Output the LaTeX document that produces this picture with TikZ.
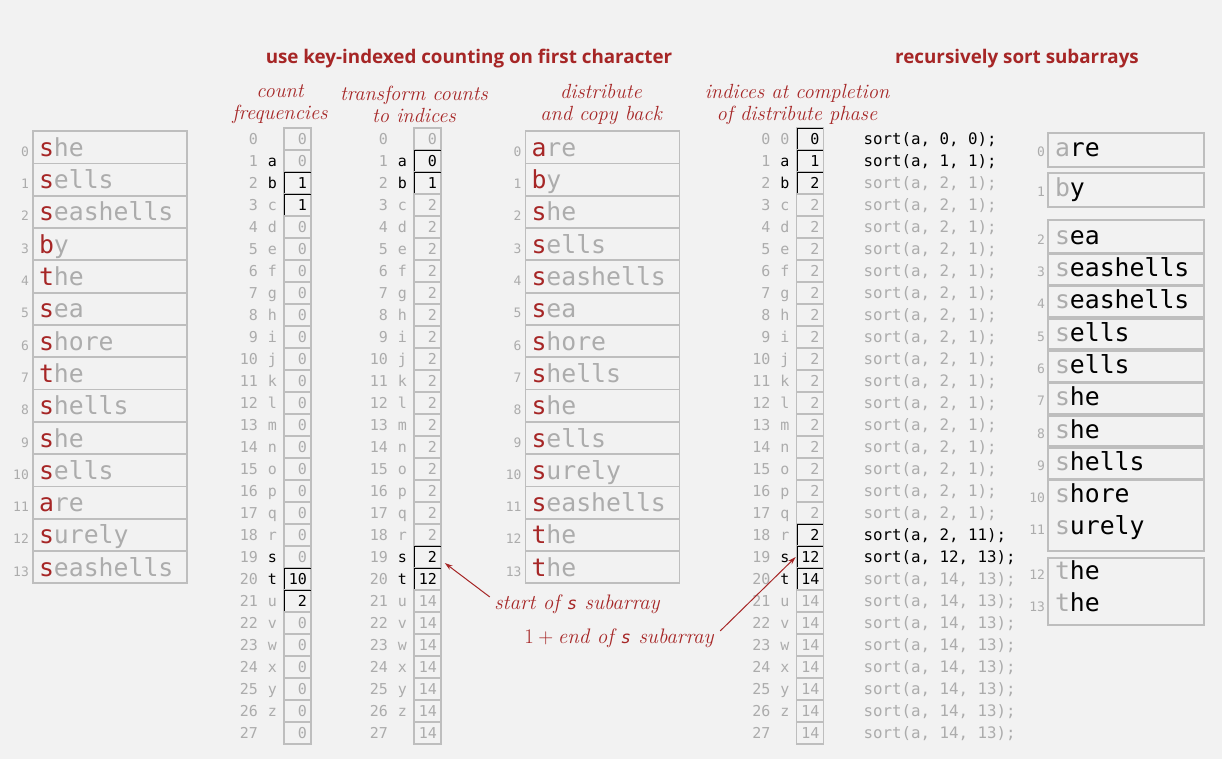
\documentclass[tikz,border=0pt]{standalone}
\usepackage{fontspec}
\setmonofont{DejaVu Sans Mono}
\newfontfamily\headfont{Open Sans}
\usetikzlibrary{positioning,arrows.meta}

\definecolor{bookred}{RGB}{166,38,38}
\definecolor{cellgray}{RGB}{190,190,190}
\definecolor{textgray}{RGB}{172,172,172}
\definecolor{paper}{RGB}{242,242,242}

% first letter coloured, rest of the word in another colour
\def\splitred#1#2\relax{{\color{bookred}#1}#2}
\def\splitgray#1#2\relax{{\color{textgray}#1}{\color{black}#2}}
\newcommand\redfirst[1]{\expandafter\splitred#1\relax}
\newcommand\grayfirst[1]{\expandafter\splitgray#1\relax}
\newcommand\keychar[1]{{\ttfamily\fontsize{17}{17}\selectfont #1}}

% letter of a row (a = 1, ..., z = 26)
\newcommand\rowletter[1]{\ifnum#1>0 \ifnum#1<27 \char\numexpr96+#1\relax\fi\fi}
\newcommand\setlettercolor[1]{%
  \def\lc{textgray}%
  \ifnum#1=1 \def\lc{black}\fi
  \ifnum#1=2 \def\lc{black}\fi
  \ifnum#1=19 \def\lc{black}\fi
  \ifnum#1=20 \def\lc{black}\fi}

\begin{document}
\begin{tikzpicture}[x=1pt,y=-1pt]
  \tikzstyle{word cell}=[draw=cellgray,line width=1.8pt,minimum width=154pt,minimum height=32.3pt,
    text width=142pt,inner xsep=6pt,inner ysep=0pt,align=left,text height=20pt,text depth=2pt,
    text=textgray,font=\ttfamily\fontsize{24.8}{24.8}\selectfont]
  \tikzstyle{sorted word}=[word cell,draw=none]
  \tikzstyle{cell line}=[draw=cellgray,line width=1.8pt]
  \tikzstyle{word label}=[inner sep=0pt,text height=20pt,text depth=2pt,text=textgray,
    font=\ttfamily\fontsize{13}{13}\selectfont]
  \tikzstyle{count cell}=[draw=cellgray,line width=1.6pt,minimum width=27pt,minimum height=22pt,
    text width=19pt,inner xsep=4pt,inner ysep=0pt,align=right,text height=11pt,text depth=0pt,
    font=\ttfamily\fontsize{15}{15}\selectfont]
  \tikzstyle{mark line}=[black,line width=0.8pt]
  \tikzstyle{row num}=[inner sep=0pt,text height=11pt,text depth=0pt,text=textgray,
    font=\ttfamily\fontsize{15}{15}\selectfont]
  \tikzstyle{row letter}=[row num]
  \tikzstyle{sort call}=[row num,font=\ttfamily\fontsize{15.8}{15.8}\selectfont]
  \tikzstyle{title text}=[text=bookred,font=\headfont\bfseries\fontsize{18.8}{22}\selectfont]
  \tikzstyle{phase text}=[text=bookred,align=center,font=\itshape\fontsize{20.5}{22}\selectfont]
  \tikzstyle{note text}=[text=bookred,font=\itshape\fontsize{21}{24}\selectfont]
  \tikzstyle{note arrow}=[bookred,line width=1pt,-{Stealth[length=8pt,width=5pt]}]

  \fill[paper] (0,0) rectangle (1222,759);

  % Ueberschriften
  \node[title text] (keytitle) at (469,59) {use key-indexed counting on first character};
  \node[title text] (sorttitle) at (1017,59) {recursively sort subarrays};
  \node[phase text] (countlbl) at (280,104) {count\\frequencies};
  \node[phase text] (translbl) at (414,104) {transform counts\\to indices};
  \node[phase text] (distlbl) at (601,104) {distribute\\and copy back};
  \node[phase text] (donelbl) at (797,104) {indices at completion\\of distribute phase};

  % Eingabe
  \foreach \w [count=\i from 0] in {she,sells,seashells,by,the,sea,shore,the,shells,she,sells,are,surely,seashells}{
    \node[word cell] (in\i) at (110,{147.3+32.3*\i}) {\redfirst{\w}};
    \node[word label,left=3pt of in\i] {\i};
  }

  % count[]
  \foreach \v/\h [count=\i from 0] in {0/0,0/0,1/1,1/1,0/0,0/0,0/0,0/0,0/0,0/0,0/0,0/0,0/0,0/0,
      0/0,0/0,0/0,0/0,0/0,0/0,10/1,2/1,0/0,0/0,0/0,0/0,0/0,0/0}{
    \ifnum\h=1 \def\vc{black}\else\def\vc{textgray}\fi
    \node[count cell,text=\vc] (cf\i) at (297.5,{139+22*\i}) {\v};
    \ifnum\h=1
      \draw[mark line] ([shift={(1.3pt,1.3pt)}]cf\i.south west) |- ([shift={(-1.3pt,-1.3pt)}]cf\i.north east);
    \fi
  }

  % count[] nach Summierung
  \foreach \v/\h [count=\i from 0] in {0/0,0/1,1/1,2/0,2/0,2/0,2/0,2/0,2/0,2/0,2/0,2/0,2/0,2/0,
      2/0,2/0,2/0,2/0,2/0,2/1,12/1,14/0,14/0,14/0,14/0,14/0,14/0,14/0}{
    \ifnum\h=1 \def\vc{black}\else\def\vc{textgray}\fi
    \node[count cell,text=\vc] (ti\i) at (427.5,{139+22*\i}) {\v};
    \ifnum\h=1
      \draw[mark line] ([shift={(1.3pt,1.3pt)}]ti\i.south west) |- ([shift={(-1.3pt,-1.3pt)}]ti\i.north east);
    \fi
  }

  % count[] nach dem Verteilen
  \foreach \v/\h [count=\i from 0] in {0/1,1/1,2/1,2/0,2/0,2/0,2/0,2/0,2/0,2/0,2/0,2/0,2/0,2/0,
      2/0,2/0,2/0,2/0,2/1,12/1,14/1,14/0,14/0,14/0,14/0,14/0,14/0,14/0}{
    \ifnum\h=1 \def\vc{black}\else\def\vc{textgray}\fi
    \node[count cell,text=\vc] (ix\i) at (810,{139+22*\i}) {\v};
    \ifnum\h=1
      \draw[mark line] ([shift={(1.3pt,1.3pt)}]ix\i.south west) |- ([shift={(-1.3pt,-1.3pt)}]ix\i.north east);
    \fi
  }

  % Zeilennummern und Buchstaben
  \foreach \i in {0,...,27}
    \foreach \c in {cf,ti,ix}
      \node[row num,left=25pt of \c\i] {\i};
  \foreach \i in {1,...,26}{
    \setlettercolor{\i}
    \foreach \c in {cf,ti,ix}
      \node[row letter,text=\lc,left=6pt of \c\i] {\rowletter{\i}};
  }
  \node[row letter,left=6pt of ix0] {0};

  % rekursive Aufrufe
  \foreach \s/\e/\h [count=\i from 0] in {0/0/1,1/1/1,2/1/0,2/1/0,2/1/0,2/1/0,2/1/0,2/1/0,2/1/0,2/1/0,
      2/1/0,2/1/0,2/1/0,2/1/0,2/1/0,2/1/0,2/1/0,2/1/0,2/11/1,12/13/1,14/13/0,14/13/0,14/13/0,
      14/13/0,14/13/0,14/13/0,14/13/0,14/13/0}{
    \ifnum\h=1 \def\vc{black}\else\def\vc{textgray}\fi
    \node[sort call,text=\vc,right=39pt of ix\i] {sort(a, \s, \e);};
  }

  % verteilt
  \foreach \w [count=\i from 0] in {are,by,she,sells,seashells,sea,shore,shells,she,sells,surely,seashells,the,the}{
    \node[word cell] (ds\i) at (602.5,{147.3+32.3*\i}) {\redfirst{\w}};
    \node[word label,left=3pt of ds\i] {\i};
  }

  % sortiert
  \foreach \w/\y [count=\i from 0] in {are/148,by/188,sea/235.2,seashells/267.5,seashells/299.8,
      sells/332.1,sells/364.4,she/396.7,she/429,shells/461.3,shore/493.6,surely/525.9,the/570,the/602.3}{
    \node[sorted word] (so\i) at (1126,\y) {\grayfirst{\w}};
    \node[word label,left=3pt of so\i] {\i};
  }
  \foreach \i in {0,...,9}
    \draw[cell line] ([yshift=-2pt]so\i.north west) rectangle ([yshift=-2pt]so\i.south east);
  \draw[cell line] ([yshift=-2pt]so10.north west) rectangle ([yshift=-8pt]so11.south east);
  \draw[cell line] ([yshift=-5pt]so12.north west) rectangle ([yshift=-5.5pt]so13.south east);

  % Hinweise
  \node[note text] (startnote) at (577,604) {start of \keychar{s} subarray};
  \node[note text] (endnote) at (619,638) {$1+{}$end of \keychar{s} subarray};
  \draw[note arrow] ([shift={(-1pt,-6pt)}]startnote.north west) -- ([shift={(3pt,-6pt)}]ti19.east);
  \draw[note arrow] ([shift={(3pt,-6pt)}]endnote.north east) -- (ix19.west);
\end{tikzpicture}
\end{document}
